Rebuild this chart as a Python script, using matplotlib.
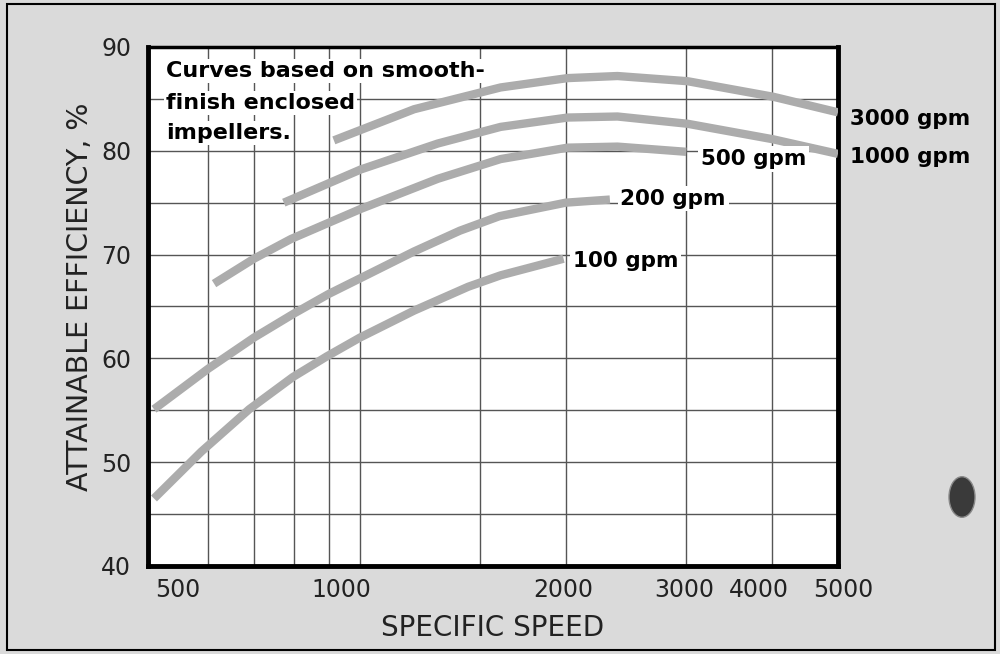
import matplotlib.pyplot as plt
import matplotlib.transforms as mtransforms
from matplotlib.patches import Rectangle, Ellipse

# specific speed vs attainable efficiency (%)
x_100 = [500, 586, 689, 798, 895, 1000, 1200, 1440, 1606, 1985]
y_100 = [46.5, 51.0, 55.1, 58.2, 60.2, 62.0, 64.6, 66.9, 68.0, 69.6]

x_200 = [500, 600, 700, 800, 900, 1000, 1200, 1400, 1600, 2000, 2320]
y_200 = [55.1, 59.0, 62.0, 64.3, 66.2, 67.7, 70.3, 72.3, 73.7, 75.0, 75.3]

x_500 = [612, 700, 793, 1003, 1300, 1606, 2012, 2380, 3000]
y_500 = [67.2, 69.6, 71.5, 74.4, 77.3, 79.2, 80.3, 80.4, 79.9]

x_1000 = [774, 1003, 1300, 1606, 2012, 2380, 3014, 4022, 5000]
y_1000 = [75.0, 78.2, 80.7, 82.3, 83.2, 83.3, 82.6, 81.1, 79.7]

x_3000 = [916, 1200, 1606, 2012, 2380, 3014, 4022, 5000]
y_3000 = [81.0, 84.0, 86.1, 87.0, 87.2, 86.7, 85.2, 83.7]

xtick_vals = [500, 1000, 2000, 3000, 4000, 5000]
xtick_labels = ['500', '1000', '2000', '3000', '4000', '5000']
xgrid_vals = [600, 700, 800, 900, 1000, 1500, 2000, 3000, 4000]
ytick_vals = [40, 50, 60, 70, 80, 90]
ygrid_vals = [45, 50, 55, 60, 65, 70, 75, 80, 85]

note_lines = ['Curves based on smooth-', 'finish enclosed', 'impellers.']

bg = '#dadada'
curve_col = '#acacac'
txt_col = '#222222'

fig = plt.figure(figsize=(10, 6.54), dpi=100, facecolor=bg)
ax = fig.add_axes([0.148, 0.1346, 0.69, 0.7936])
ax.set_facecolor('white')
ax.set_xscale('log')
ax.set_xlim(490, 5000)
ax.set_ylim(40, 90)

# grid
for gx in xgrid_vals:
    ax.axvline(gx, color='#555555', lw=1.0, zorder=1)
for gy in ygrid_vals:
    ax.axhline(gy, color='#555555', lw=1.0, zorder=1)

# curves
for xs, ys in [(x_100, y_100), (x_200, y_200), (x_500, y_500),
               (x_1000, y_1000), (x_3000, y_3000)]:
    ax.plot(xs, ys, color=curve_col, lw=6, solid_capstyle='butt',
            solid_joinstyle='round', zorder=3)

# ticks
ax.minorticks_off()
ax.set_xticks(xtick_vals)
ax.set_xticklabels(xtick_labels, fontsize=17, color=txt_col)
ax.set_yticks(ytick_vals)
ax.set_yticklabels([str(v) for v in ytick_vals], fontsize=17, color=txt_col)
ax.tick_params(axis='both', length=0)
ax.tick_params(axis='x', pad=9)
ax.tick_params(axis='y', pad=12)

# tick labels in the original are nudged sideways
shifts = [24, -19, -3, -2, -13, 5]
for lab, dx in zip(ax.get_xticklabels(), shifts):
    lab.set_transform(lab.get_transform() +
                      mtransforms.ScaledTranslation(dx / 100, 0, fig.dpi_scale_trans))

for side in ['left', 'bottom', 'right']:
    ax.spines[side].set_linewidth(3.5)
ax.spines['top'].set_linewidth(2.5)

# axis titles
fig.text(0.493, 1 - 628 / 654, 'SPECIFIC SPEED', ha='center', va='center',
         fontsize=20, color=txt_col)
fig.text(0.080, 1 - 297 / 654, 'ATTAINABLE EFFICIENCY, %', ha='center', va='center',
         rotation=90, fontsize=20.5, color=txt_col)

# note in the corner
for line, yb in zip(note_lines, [87.1, 84.0, 81.1]):
    ax.text(521, yb, line, fontsize=16, fontweight='bold', va='baseline',
            ha='left', zorder=5,
            bbox=dict(facecolor='white', edgecolor='none', pad=1.5))

# curve labels
lab_kw = dict(fontsize=15.5, fontweight='bold', va='center', ha='left', zorder=6)
ax.text(5210, 83.1, '3000 gpm', clip_on=False, **lab_kw)
ax.text(5210, 79.4, '1000 gpm', clip_on=False, **lab_kw)
ax.text(3148, 79.2, '500 gpm',
        bbox=dict(facecolor='white', edgecolor='none', pad=2), **lab_kw)
ax.text(2403, 75.4, '200 gpm',
        bbox=dict(facecolor='white', edgecolor='none', pad=2), **lab_kw)
ax.text(2047, 69.4, '100 gpm',
        bbox=dict(facecolor='white', edgecolor='none', pad=2), **lab_kw)

# page frame and the punched hole on the right
fig.patches.append(Rectangle((0.007, 0.006), 0.988, 0.988, transform=fig.transFigure,
                             fill=False, edgecolor='black', lw=1.5))
fig.patches.append(Ellipse((0.962, 1 - 497 / 654), 0.026, 0.062, transform=fig.transFigure,
                           facecolor='#3a3a3a', edgecolor='#888888', lw=1))

fig.savefig('out.png', dpi=100, facecolor=bg)
